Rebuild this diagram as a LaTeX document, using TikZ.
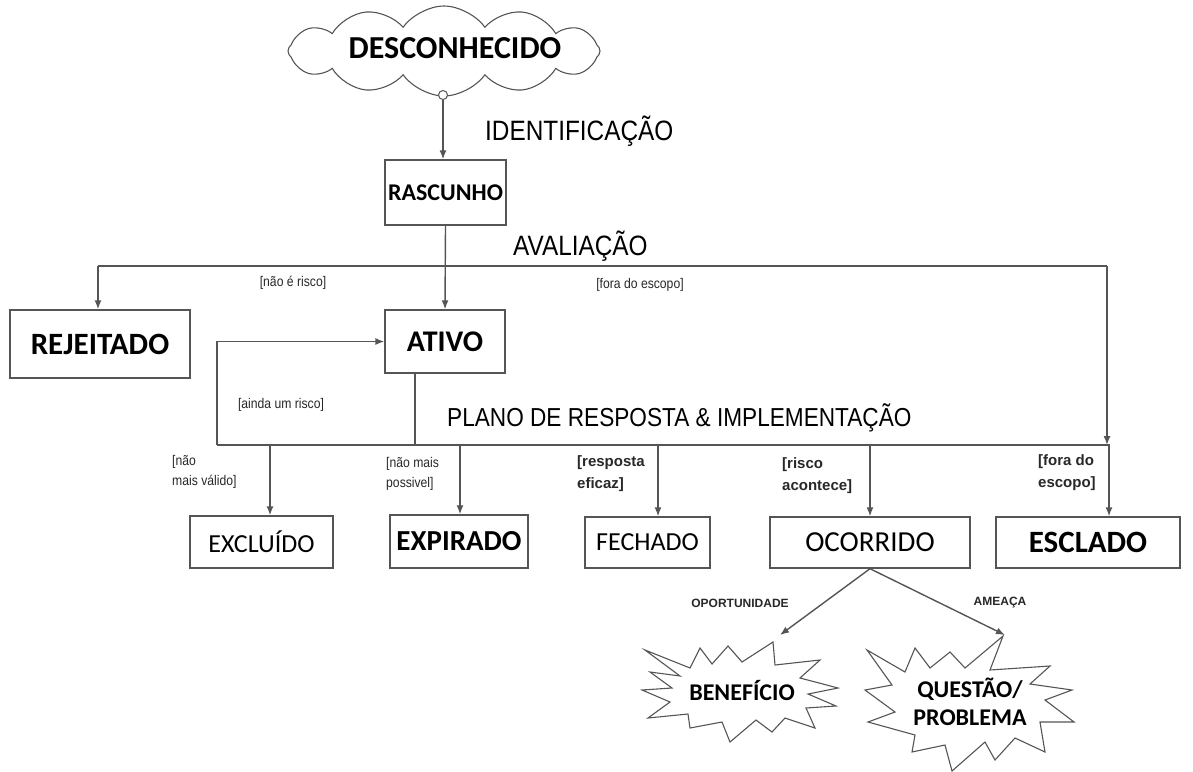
\documentclass[tikz,border=0pt]{standalone}
\usepackage{fontspec}
\setmainfont{Liberation Sans}
\newfontfamily\calib{Carlito}
\newfontfamily\narrowf{Liberation Sans}[FakeStretch=0.87]
\usetikzlibrary{shapes.symbols,arrows.meta}
\definecolor{linegray}{RGB}{85,85,85}
\definecolor{txtgray}{RGB}{40,40,40}
\tikzset{
  ln/.style={draw=linegray,line width=1.4pt},
  arr/.style={ln,-{Latex[length=9pt,width=7pt]}},
  box/.style={draw=linegray,line width=1.4pt,inner sep=0pt,fill=white},
  bigbold/.style={font=\calib\bfseries\fontsize{30}{32}\selectfont},
  midreg/.style={font=\calib\fontsize{27}{30}\selectfont},
  phase/.style={font=\narrowf\fontsize{28}{30}\selectfont,inner sep=0pt},
  guard/.style={font=\narrowf\fontsize{14}{16}\selectfont,text=txtgray,inner sep=0pt},
  bguard/.style={font=\bfseries\fontsize{15}{22}\selectfont,text=txtgray,inner sep=0pt,align=left,anchor=north west},
  cguard/.style={font=\narrowf\fontsize{14}{20}\selectfont,text=txtgray,inner sep=0pt,align=left,anchor=north west},
  small/.style={font=\bfseries\fontsize{12}{14}\selectfont,text=txtgray,inner sep=0pt},
}
\begin{document}
\begin{tikzpicture}[x=1pt,y=-1pt]
\useasboundingbox[fill=white] (0,0) rectangle (1193,771);

% cloud
\node[cloud,draw=linegray,line width=1.1pt,cloud puffs=12,cloud puff arc=110,aspect=3.5,
      minimum width=312pt,minimum height=90pt,inner sep=0pt] (cloud) at (444,51) {};
\node[font=\calib\bfseries\fontsize{32}{34}\selectfont,inner sep=0pt] (desc) at (455,48) {DESCONHECIDO};
\node[circle,draw=linegray,line width=1pt,fill=white,inner sep=0pt,minimum size=9pt] (knot) at (443,95) {};

% boxes
\node[box,minimum width=121pt,minimum height=65pt,font=\calib\bfseries\fontsize{24}{26}\selectfont] (rasc) at (445.5,192.5) {RASCUNHO};
\node[box,minimum width=180pt,minimum height=68pt,bigbold,font=\calib\bfseries\fontsize{31}{33}\selectfont] (rej) at (100,344) {REJEITADO};
\node[box,minimum width=120pt,minimum height=63pt,bigbold] (atv) at (445,341.5) {ATIVO};
\node[box,minimum width=143pt,minimum height=52pt,midreg,font=\calib\fontsize{26}{28}\selectfont] (excl) at (261.5,542) {EXCLUÍDO};
\node[box,minimum width=138pt,minimum height=53pt,font=\calib\bfseries\fontsize{29}{31}\selectfont] (expi) at (459,541.5) {EXPIRADO};
\node[box,minimum width=125pt,minimum height=51pt,midreg,font=\calib\fontsize{26}{28}\selectfont] (fech) at (647.5,542.5) {FECHADO};
\node[box,minimum width=200pt,minimum height=51pt,midreg,font=\calib\fontsize{29}{31}\selectfont] (ocor) at (870,542.5) {OCORRIDO};
\node[box,minimum width=184pt,minimum height=51pt,font=\calib\bfseries\fontsize{31}{33}\selectfont] (escl) at (1088,542.5) {ESCLADO};

% phase labels
\node[phase,anchor=west] (ident) at (485,131) {IDENTIFICAÇÃO};
\node[phase,anchor=west] (aval) at (513,246) {AVALIAÇÃO};
\node[phase,anchor=west,font=\narrowf\fontsize{26}{28}\selectfont] (plano) at (447,418) {PLANO DE RESPOSTA \& IMPLEMENTAÇÃO};

% top connectors
\draw[arr] (knot) -- (rasc.north -| knot);
\draw[arr] (rasc.south) -- (atv.north);
\coordinate (tl) at (98,266);
\coordinate (tr) at (1107,266);
\coordinate (trb) at (1107,445);
\draw[ln] (tl) -- (tr);
\draw[arr] (tl) -- (tl |- rej.north);
\draw[arr] (tr) -- (trb);
\node[guard] (g1) at (293,283) {[não é risco]};
\node[guard] (g2) at (640,285) {[fora do escopo]};

% lower bus
\coordinate (bl) at (217,445);
\coordinate (br) at (1110,445);
\coordinate (ab) at (415,445);
\draw[ln] (bl) -- (br);
\draw[ln] (ab |- atv.south) -- (ab);
\draw[arr] (bl) |- (atv.west);
\node[guard] (g3) at (281,405) {[ainda um risco]};

% drops
\coordinate (d1) at (270,445);
\coordinate (d2) at (460,445);
\coordinate (d3) at (658,445);
\coordinate (d4) at (870,445);
\coordinate (d5) at (1109,445);
\draw[arr] (d1) -- (d1 |- excl.north);
\draw[arr] (d2) -- (d2 |- expi.north);
\draw[arr] (d3) -- (d3 |- fech.north);
\draw[arr] (d4) -- (d4 |- ocor.north);
\draw[arr] (d5) -- (d5 |- escl.north);

\node[cguard] (g4) at (172,455) {[não\\mais válido]};
\node[cguard] (g5) at (386,457) {[não mais\\possivel]};
\node[bguard] (g6) at (577,455) {[resposta\\eficaz]};
\node[bguard] (g7) at (782,457) {[risco\\acontece]};
\node[bguard] (g8) at (1038,454) {[fora do\\escopo]};

% starbursts
\draw[ln,line width=1.1pt,fill=white] (645,650) -- (690,668) -- (700,648) -- (712,664) -- (728,646) -- (742,662)
  -- (773,642) -- (775,665) -- (820,660) -- (800,678) -- (838,688) -- (808,694) -- (836,706) -- (806,708)
  -- (815,728) -- (785,718) -- (772,732) -- (756,720) -- (730,742) -- (722,722) -- (690,728) -- (688,714)
  -- (648,718) -- (670,702) -- (642,690) -- (672,688) -- (650,672) -- (680,676) -- cycle;
\draw[ln,line width=1.1pt,fill=white] (867,650) -- (905,672) -- (915,648) -- (930,668) -- (950,652) -- (965,668)
  -- (1003,636) -- (990,670) -- (1050,666) -- (1030,684) -- (1072,690) -- (1045,700) -- (1074,722) -- (1040,722)
  -- (1045,752) -- (1015,738) -- (995,760) -- (985,742) -- (952,771) -- (945,745) -- (912,752) -- (915,735)
  -- (868,722) -- (895,712) -- (865,690) -- (892,685) -- cycle;
\node[font=\calib\bfseries\fontsize{24}{26}\selectfont,inner sep=0pt] (ben) at (742,690) {BENEFÍCIO};
\node[font=\calib\bfseries\fontsize{24}{28}\selectfont,inner sep=0pt,align=center] (quest) at (970,702) {QUESTÃO/\\PROBLEMA};
\coordinate (bentip) at (780,635);
\coordinate (questip) at (1005,635);
\draw[arr] (ocor.south) -- (bentip);
\draw[arr] (ocor.south) -- (questip);
\node[small] (opp) at (740,603) {OPORTUNIDADE};
\node[small] (ame) at (1000,603) {AMEAÇA};
\end{tikzpicture}
\end{document}
